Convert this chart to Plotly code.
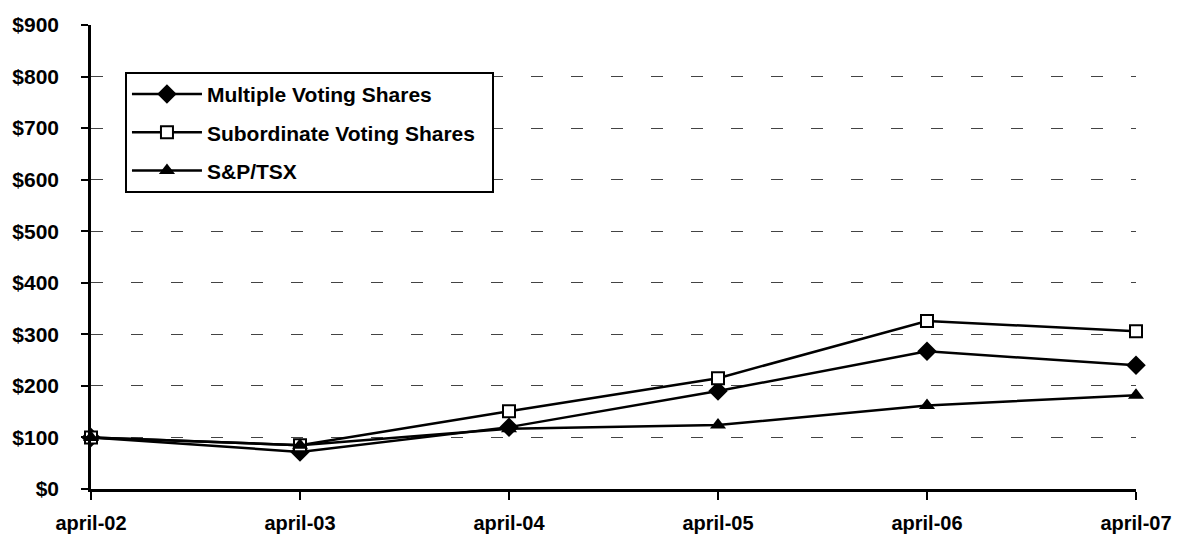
import plotly.graph_objects as go

categories = ["april-02", "april-03", "april-04", "april-05", "april-06", "april-07"]
multiple_voting = [100, 72, 120, 190, 267, 240]
subordinate_voting = [100, 85, 151, 215, 326, 306]
sp_tsx = [100, 85, 117, 124, 162, 182]
y_ticks = [0, 100, 200, 300, 400, 500, 600, 700, 800, 900]
y_labels = ["$" + str(v) for v in y_ticks]

fig = go.Figure()
fig.add_trace(go.Scatter(x=categories, y=multiple_voting, name="Multiple Voting Shares",
                         legendgroup="a",
                         mode="lines+markers", cliponaxis=False,
                         line=dict(color="black", width=2.5),
                         marker=dict(symbol="diamond", size=15, color="black")))
fig.add_trace(go.Scatter(x=categories, y=subordinate_voting,
                         name="Subordinate Voting Shares\u00a0\u00a0",
                         legendgroup="b",
                         mode="lines+markers", cliponaxis=False,
                         line=dict(color="black", width=2.5),
                         marker=dict(symbol="square", size=12, color="white",
                                     line=dict(color="black", width=2))))
fig.add_trace(go.Scatter(x=categories, y=sp_tsx, name="S&P/TSX",
                         legendgroup="c",
                         mode="lines+markers", cliponaxis=False,
                         line=dict(color="black", width=2.5),
                         marker=dict(symbol="triangle-up", size=14, color="black")))

fig.update_layout(
    width=1180, height=536,
    margin=dict(l=83, r=52, t=17, b=55, autoexpand=False),
    paper_bgcolor="white", plot_bgcolor="white",
    font=dict(family="Liberation Sans, Arial", color="black", size=20),
    showlegend=True,
    legend=dict(x=0.0325, y=0.899, xanchor="left", yanchor="top",
                bordercolor="black", borderwidth=2, bgcolor="white",
                font=dict(size=21, family="Liberation Sans, Arial", weight="bold"),
                tracegroupgap=8, itemwidth=70),
)
fig.update_xaxes(type="category", range=[0, 5], showline=True, linecolor="black", linewidth=2.5,
                 ticks="outside", ticklen=8, tickwidth=2, tickcolor="black",
                 showgrid=False, zeroline=False, ticklabelstandoff=6, automargin=False,
                 tickfont=dict(size=20, weight="bold"))
fig.update_yaxes(range=[0, 900], tickvals=y_ticks, ticktext=y_labels,
                 showline=True, linecolor="black", linewidth=2.5,
                 ticks="outside", ticklen=7, tickwidth=2, tickcolor="black",
                 showgrid=True, gridcolor="#444", gridwidth=1, griddash="12px,28px",
                 zeroline=False, ticklabelstandoff=18, automargin=False,
                 tickfont=dict(size=21, weight="bold"))

fig.write_html("out.html")
